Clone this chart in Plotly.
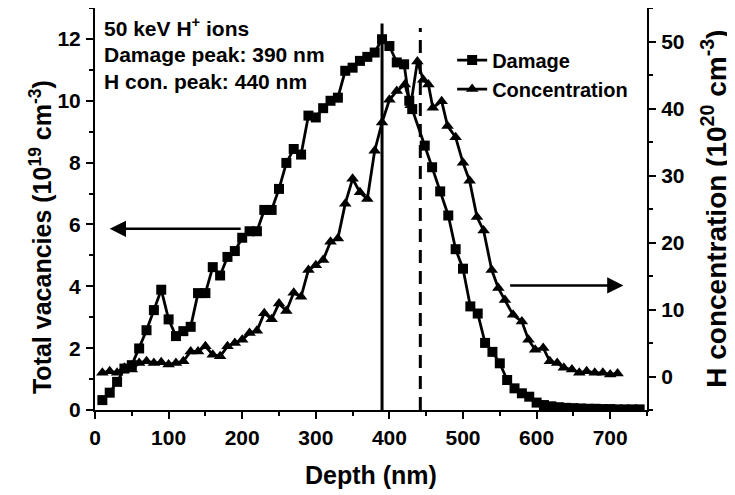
import plotly.graph_objects as go

# ---------------- data ----------------
damage_depth = [10, 20, 30, 40, 50, 60, 70, 80, 90, 100, 110, 120, 130, 140, 150, 160, 170, 180, 190, 200,
                210, 220, 230, 240, 250, 260, 270, 280, 290, 300, 310, 320, 330, 340, 350, 360, 370, 380, 390, 400,
                410, 420, 427, 431, 448, 458, 469, 480, 490, 500, 510, 520, 530, 540, 550, 560, 570, 580, 590, 600,
                610, 620, 630, 640, 650, 660, 670, 680, 690, 700, 710, 720, 730, 740]
damage_vac = [0.32, 0.56, 0.91, 1.34, 1.45, 1.99, 2.58, 3.23, 3.89, 2.93, 2.39, 2.55, 2.69, 3.78, 3.78, 4.62, 4.35, 4.95, 5.14, 5.57,
              5.78, 5.78, 6.47, 6.47, 7.15, 7.99, 8.44, 8.26, 9.52, 9.46, 9.76, 10.0, 10.1, 10.97, 11.07, 11.29, 11.42, 11.56, 11.99, 11.77,
              11.24, 11.18, 10.0, 9.73, 8.55, 7.85, 7.07, 6.29, 5.2, 4.57, 3.35, 3.12, 2.17, 1.88, 1.51, 0.97, 0.70, 0.54, 0.43, 0.24,
              0.16, 0.12, 0.09, 0.07, 0.06, 0.05, 0.04, 0.04, 0.03, 0.03, 0.02, 0.02, 0.02, 0.02]

conc_depth = [10, 20, 30, 40, 50, 60, 70, 80, 90, 100, 110, 120, 130, 140, 150, 160, 170, 180, 190, 200,
              210, 220, 230, 240, 250, 260, 270, 280, 290, 300, 310, 320, 330, 340, 350, 360, 370, 380, 390, 400,
              410, 421, 429, 438, 446, 453, 459, 471, 479, 490, 500, 509, 519, 528, 539, 548, 557, 568, 580, 589,
              598, 609, 618, 628, 637, 648, 658, 668, 679, 690, 700, 710]
conc_h = [0.55, 0.79, 0.55, 1.29, 1.04, 2.03, 2.27, 2.03, 2.12, 1.78, 2.03, 2.27, 3.75, 3.75, 4.5, 3.26, 3.01, 4.5, 5.0, 5.49,
          6.48, 6.82, 9.45, 8.56, 10.9, 9.79, 12.5, 11.9, 15.9, 16.6, 17.4, 20.1, 20.6, 25.8, 29.5, 27.5, 26.5, 33.7, 37.9, 41.3,
          42.6, 43.6, 40.5, 47.0, 44.3, 43.6, 40.1, 41.1, 37.4, 35.7, 31.9, 29.2, 23.8, 21.8, 15.9, 13.2, 11.4, 9.2, 8.2, 5.49,
          4.0, 4.26, 2.27, 2.03, 1.29, 1.04, 0.55, 0.79, 0.55, 0.55, 0.3, 0.45]

series_names = ["Damage", "Concentration"]
peak_depths = [390, 442]          # damage peak, H concentration peak (nm)
peak_tops = [12.5, 12.35]         # top of the marker lines (left-axis units)
info_lines = ["50 keV H<sup>+</sup> ions", "Damage peak: 390 nm", "H con. peak: 440 nm"]
x_title = "Depth (nm)"
y_title = "Total vacancies (10<sup>19</sup> cm<sup>-3</sup>)"
y2_title = "H concentration (10<sup>20</sup> cm<sup>-3</sup>)"
x_ticks = [0, 100, 200, 300, 400, 500, 600, 700]
y_ticks = [0, 2, 4, 6, 8, 10, 12]
y2_ticks = [0, 10, 20, 30, 40, 50]
left_arrow = dict(x_from=200, x_to=20, y=5.86)
right_arrow = dict(x_from=562, x_to=718, y=4.03)

FONT = "Liberation Sans, Arial, sans-serif"
BLACK = "#000000"


def bold(size):
    return dict(family=FONT, size=size, color=BLACK, weight="bold")


fig = go.Figure()
fig.add_trace(go.Scatter(
    x=damage_depth, y=damage_vac, name=series_names[0], mode="lines+markers",
    line=dict(color=BLACK, width=2.8), marker=dict(symbol="square", size=10, color=BLACK),
    yaxis="y"))
fig.add_trace(go.Scatter(
    x=conc_depth, y=conc_h, name=series_names[1], mode="lines+markers",
    line=dict(color=BLACK, width=2.8), marker=dict(symbol="triangle-up", size=11, color=BLACK),
    yaxis="y2"))

# vertical peak lines
fig.add_shape(type="line", xref="x", yref="y", x0=peak_depths[0], x1=peak_depths[0], y0=0, y1=peak_tops[0],
              line=dict(color=BLACK, width=3))
fig.add_shape(type="line", xref="x", yref="y", x0=peak_depths[1], x1=peak_depths[1], y0=0, y1=peak_tops[1],
              line=dict(color=BLACK, width=3, dash="13px,8px"))

# arrows
for arr in (left_arrow, right_arrow):
    fig.add_annotation(x=arr["x_to"], y=arr["y"], ax=arr["x_from"], ay=arr["y"], xref="x", yref="y",
                       axref="x", ayref="y", showarrow=True, arrowhead=2, arrowsize=1.3, arrowwidth=2.5,
                       arrowcolor=BLACK, text="")

# info text
info_y = [0.953, 0.884, 0.817]
for txt, yy in zip(info_lines, info_y):
    fig.add_annotation(x=0.013, y=yy, xref="paper", yref="paper", text=txt, showarrow=False,
                       xanchor="left", yanchor="middle", font=bold(21))

# axis titles
fig.add_annotation(x=0.5, y=-0.162, xref="paper", yref="paper", text=x_title, showarrow=False,
                   xanchor="center", yanchor="middle", font=bold(25))
fig.add_annotation(x=-0.098, y=0.43, xref="paper", yref="paper", text=y_title, showarrow=False,
                   textangle=-90, xanchor="center", yanchor="middle", font=bold(25))
fig.add_annotation(x=1.121, y=0.50, xref="paper", yref="paper", text=y2_title, showarrow=False,
                   textangle=-90, xanchor="center", yanchor="middle", font=bold(28))

axis_common = dict(showline=True, linecolor=BLACK, linewidth=2, ticks="outside", ticklen=7, tickwidth=2,
                   tickcolor=BLACK, showgrid=False, zeroline=False, automargin=False,
                   tickfont=bold(21))

fig.update_layout(
    width=727, height=487,
    margin=dict(l=87, r=88, t=0, b=85, autoexpand=False),
    paper_bgcolor="white", plot_bgcolor="white",
    showlegend=True,
    legend=dict(x=0.647, y=0.919, xanchor="left", yanchor="top", bgcolor="rgba(0,0,0,0)",
                font=bold(20), itemwidth=30),
    xaxis=dict(range=[0, 750], tickvals=x_ticks, mirror=True, ticklabelstandoff=1,
               minor=dict(ticklen=4, tickwidth=2, dtick=50, tick0=0, ticks="outside", tickcolor=BLACK),
               **axis_common),
    yaxis=dict(range=[0, 13], tickvals=y_ticks, ticklabelstandoff=1,
               minor=dict(ticklen=4, tickwidth=2, dtick=1, tick0=0, ticks="outside", tickcolor=BLACK),
               **axis_common),
    yaxis2=dict(range=[-5, 55], tickvals=y2_ticks, overlaying="y", side="right", ticklabelstandoff=1,
                minor=dict(ticklen=4, tickwidth=2, dtick=5, tick0=0, ticks="outside", tickcolor=BLACK),
                **axis_common),
)

fig.write_html("out.html")
